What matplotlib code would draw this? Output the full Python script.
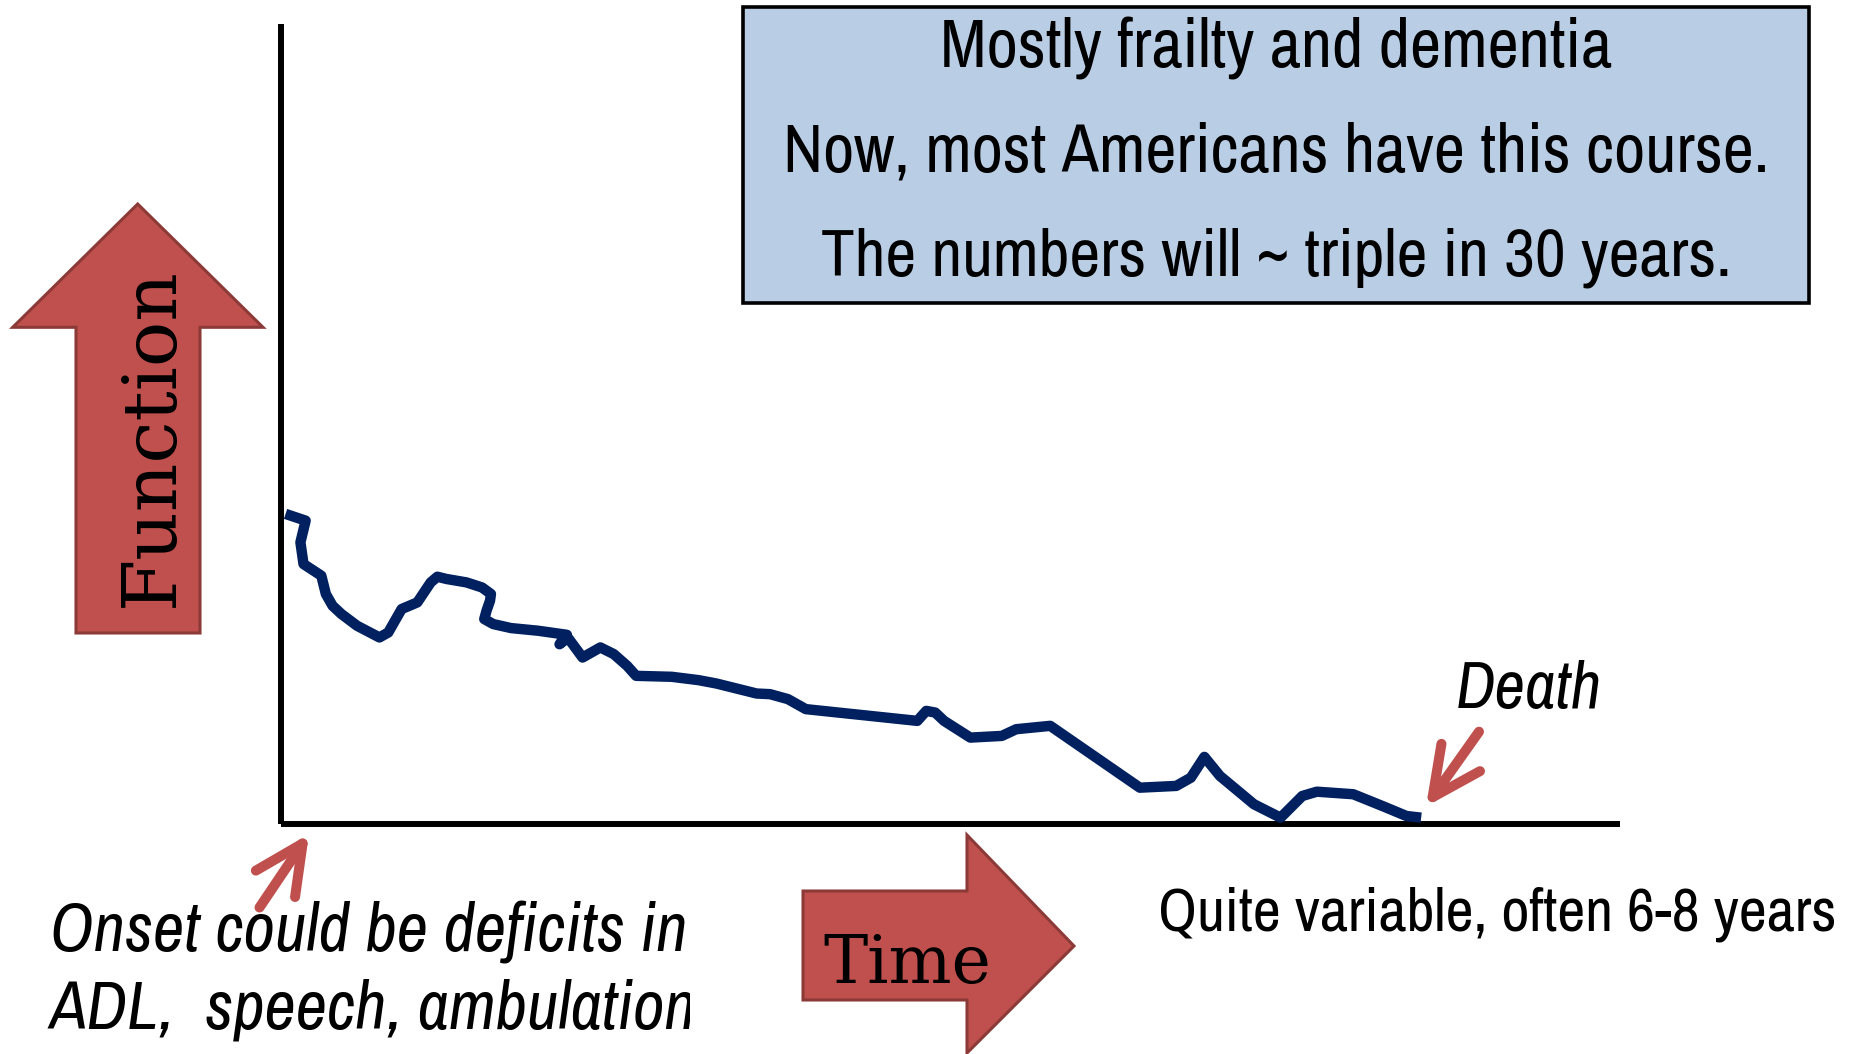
import matplotlib
matplotlib.use('Agg')
import matplotlib.pyplot as plt
from matplotlib.patches import Polygon, Rectangle
from matplotlib.transforms import Bbox

# ---- data (time and function in arbitrary 0-100 units) ----
time_vals = [0.34, 1.84, 1.45, 1.68, 3.01, 3.35, 3.85, 4.51, 5.68, 7.35, 8.01, 8.51, 9.01,
             10.18, 11.18, 11.68, 12.35, 13.85, 15.01, 15.68, 15.61, 15.35, 15.18, 15.85,
             17.18, 19.19, 21.35, 20.80, 21.43, 22.52, 23.85, 24.85, 25.85, 26.52, 29.19,
             31.19, 32.52, 35.52, 36.52, 37.86, 39.19, 47.52, 48.19, 48.86, 49.52, 51.48,
             53.83, 54.91, 57.45, 64.14, 66.86, 67.95, 68.96, 70.12, 72.66, 74.65, 76.27,
             77.36, 80.08, 82.43, 84.05, 85.15]
function_vals = [38.76, 37.92, 35.21, 32.50, 31.04, 28.75, 27.28, 26.25, 24.78, 23.32, 23.94,
                 25.41, 26.87, 27.70, 30.20, 30.91, 30.63, 30.20, 29.57, 28.75, 27.91, 26.66,
                 25.62, 24.99, 24.49, 24.16, 23.65, 22.47, 23.28, 20.81, 22.07, 21.24, 19.77,
                 18.52, 18.40, 17.98, 17.56, 16.31, 16.23, 15.61, 14.36, 12.89, 14.14, 13.93,
                 12.89, 10.80, 11.01, 11.85, 12.27, 4.54, 4.76, 5.79, 8.39, 6.01, 2.47, 0.79,
                 3.50, 4.04, 3.72, 2.13, 1.00, 0.79]

box_lines = ["Mostly frailty and dementia",
             "Now, most Americans have this course.",
             "The numbers will ~ triple in 30 years."]
onset_lines = ["Onset could be deficits in", "ADL,  speech, ambulation"]
death_label = "Death"
duration_label = "Quite variable, often 6-8 years"
y_label = "Function"
x_label = "Time"

# ---- figure ----
W, H = 1864, 1054
fig = plt.figure(figsize=(W / 100, H / 100), dpi=100)
fig.patch.set_facecolor('white')

NARROW = ['Liberation Sans Narrow', 'Archivo Narrow', 'Liberation Sans', 'DejaVu Sans']
SERIF = ['DejaVu Serif']
RED = '#C0504D'
RED_EDGE = '#8C3A38'

ax_l, ax_r, ax_t, ax_b = 281, 1620, 24, 824
ax = fig.add_axes([ax_l / W, 1 - ax_b / H, (ax_r - ax_l) / W, (ax_b - ax_t) / H])
ax.plot(time_vals, function_vals, color='#002060', lw=7.5,
        solid_joinstyle='round', solid_capstyle='butt', clip_on=False, zorder=3)
ax.set_xlim(0, 100)
ax.set_ylim(0, 100)
for s in ['top', 'right']:
    ax.spines[s].set_visible(False)
for s in ['left', 'bottom']:
    ax.spines[s].set_linewidth(4.3)
    ax.spines[s].set_color('black')
    ax.spines[s].set_capstyle('butt')
ax.set_xticks([])
ax.set_yticks([])
ax.patch.set_alpha(0)

# overlay in pixel coordinates for annotations
ov = fig.add_axes([0, 0, 1, 1])
ov.set_xlim(0, W)
ov.set_ylim(H, 0)
ov.axis('off')
ov.patch.set_alpha(0)

# Function block arrow
func_arrow = [(137.7, 204), (263, 327.3), (200, 327.3), (200, 633), (76, 633),
              (76, 327.3), (12.7, 327.3)]
ov.add_patch(Polygon(func_arrow, closed=True, facecolor=RED, edgecolor=RED_EDGE,
                     lw=2.2, joinstyle='miter'))
t_func = ov.text(173, 437, y_label, rotation=90, rotation_mode='anchor', ha='center',
                 va='baseline', fontfamily=SERIF, fontsize=55, color='black')

# Time block arrow
time_arrow = [(803, 891), (967, 891), (967, 835), (1074, 946), (967, 1053),
              (967, 1000), (803, 1000)]
ov.add_patch(Polygon(time_arrow, closed=True, facecolor=RED, edgecolor=RED_EDGE,
                     lw=2.2, joinstyle='miter'))
t_time = ov.text(907, 983, x_label, ha='center', va='baseline', fontfamily=SERIF,
                 fontsize=55, color='black')

# Info box
ov.add_patch(Rectangle((743, 6.7), 1066, 296.3, facecolor='#B9CDE5',
                       edgecolor='black', lw=2.6))
box_texts = []
for txt, yb in zip(box_lines, [68, 172, 275]):
    box_texts.append(ov.text(1276, yb, txt, ha='center', va='baseline',
                             fontfamily=NARROW, fontsize=48, color='black'))

# small arrows
arrow_kw = dict(arrowstyle='->,head_length=1.75,head_width=0.85', mutation_scale=20,
                lw=7.2, color=RED, shrinkA=0, shrinkB=0, capstyle='round',
                joinstyle='round')
ov.annotate('', xy=(309, 834), xytext=(259.5, 907.5), arrowprops=arrow_kw)
ov.annotate('', xy=(1426, 806.5), xytext=(1479, 731.7), arrowprops=arrow_kw)

# labels
t_death = ov.text(1529, 708, death_label, ha='center', va='baseline', fontfamily=NARROW,
                  fontstyle='italic', fontsize=47, color='black')
t_quite = ov.text(1158, 930, duration_label, ha='left', va='baseline', fontfamily=NARROW,
                  fontsize=44, color='black')
onset_texts = []
for txt, yb in zip(onset_lines, [951.7, 1028.3]):
    t = ov.text(50, yb, txt, ha='left', va='baseline', fontfamily=NARROW,
                fontstyle='italic', fontsize=49, color='black')
    t.set_clip_box(Bbox.from_extents(0, 0, 690, H - 850))
    t.set_clip_on(True)
    onset_texts.append(t)

# ---- fit text sizes to the reference widths ----
fig.canvas.draw()
r = fig.canvas.get_renderer()


def fit(texts, target, vertical=False):
    ext = texts[0].get_window_extent(r)
    cur = ext.height if vertical else ext.width
    k = target / cur
    for t in texts:
        t.set_fontsize(t.get_fontsize() * k)


fit([t_func], 340, vertical=True)
fit([t_time], 168)
fit([box_texts[1]], 984)
fit([box_texts[0]], 672)
fit([box_texts[2]], 911)
fit([t_death], 146)
fit([t_quite], 678)
fit(onset_texts, 636)

fig.savefig('out.png', dpi=100, facecolor='white')
